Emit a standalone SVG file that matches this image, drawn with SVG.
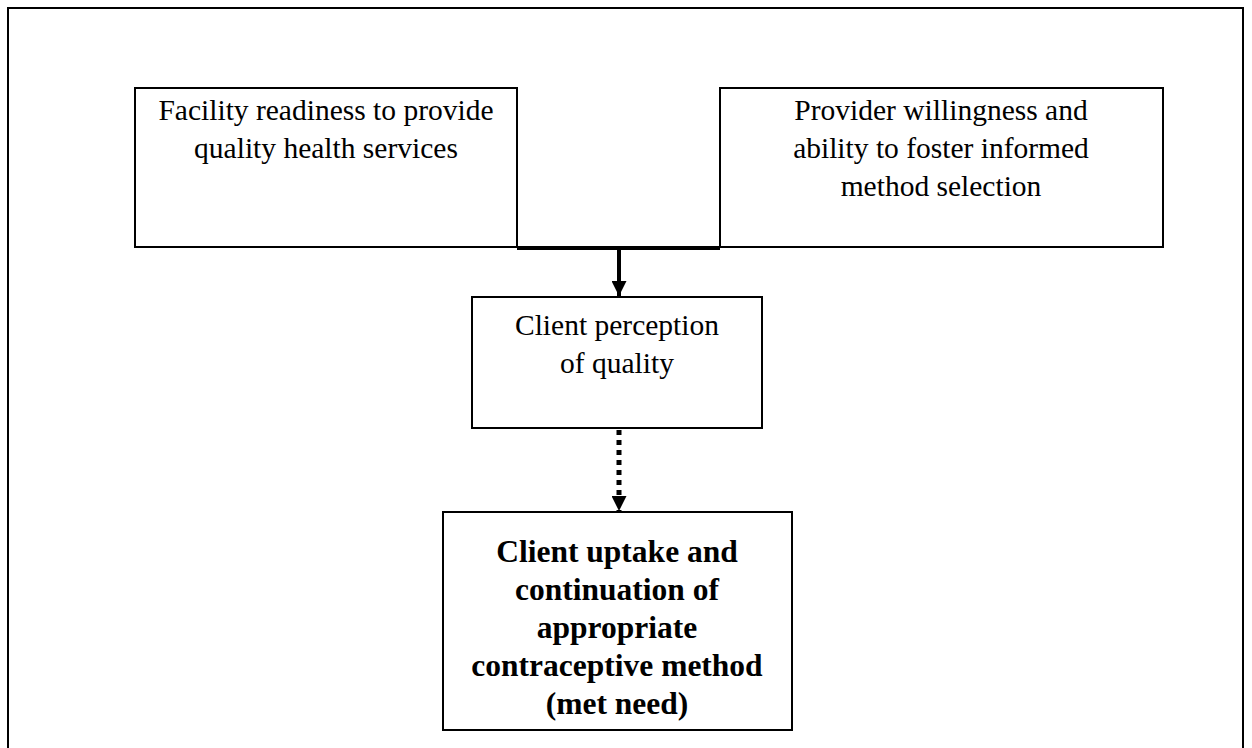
<svg xmlns="http://www.w3.org/2000/svg" width="1252" height="748" viewBox="0 0 1252 748">
<style>
.box{fill:#fff;stroke:#000;stroke-width:2}
.t{font-family:"Liberation Serif","Times New Roman",serif;font-size:29.5px;fill:#000;text-anchor:middle}
.b{font-weight:bold;font-size:31.5px}
.con{stroke:#000;fill:none}
</style>
<defs>
<marker id="ah" viewBox="0 0 10 10" refX="10" refY="5" markerWidth="15" markerHeight="15" markerUnits="userSpaceOnUse" orient="auto">
<path d="M0,0 L10,5 L0,10 z" fill="#000"/>
</marker>
</defs>
<rect x="8" y="8" width="1235" height="760" fill="none" stroke="#000" stroke-width="2"/>
<g id="facility">
<rect class="box" x="135" y="88" width="382" height="159"/>
<text class="t" x="326" y="120">Facility readiness to provide</text>
<text class="t" x="326" y="158">quality health services</text>
</g>
<g id="provider">
<rect class="box" x="720" y="88" width="443" height="159"/>
<text class="t" x="941" y="120">Provider willingness and</text>
<text class="t" x="941" y="158">ability to foster informed</text>
<text class="t" x="941" y="196">method selection</text>
</g>
<g id="perception">
<rect class="box" x="472" y="297" width="290" height="131"/>
<text class="t" x="617" y="335">Client perception</text>
<text class="t" x="617" y="373">of quality</text>
</g>
<g id="uptake">
<rect class="box" x="443" y="512" width="349" height="218"/>
<text class="t b" x="617" y="562">Client uptake and</text>
<text class="t b" x="617" y="600">continuation of</text>
<text class="t b" x="617" y="638">appropriate</text>
<text class="t b" x="617" y="676">contraceptive method</text>
<text class="t b" x="617" y="714">(met need)</text>
</g>
<g id="connectors">
<line class="con" x1="517" y1="248" x2="720" y2="248" stroke-width="4"/>
<line class="con" x1="619" y1="248" x2="619" y2="296" stroke-width="4" marker-end="url(#ah)"/>
<line class="con" x1="619" y1="430" x2="619" y2="511" stroke-width="5" stroke-dasharray="5,5" marker-end="url(#ah)"/>
</g>
</svg>
